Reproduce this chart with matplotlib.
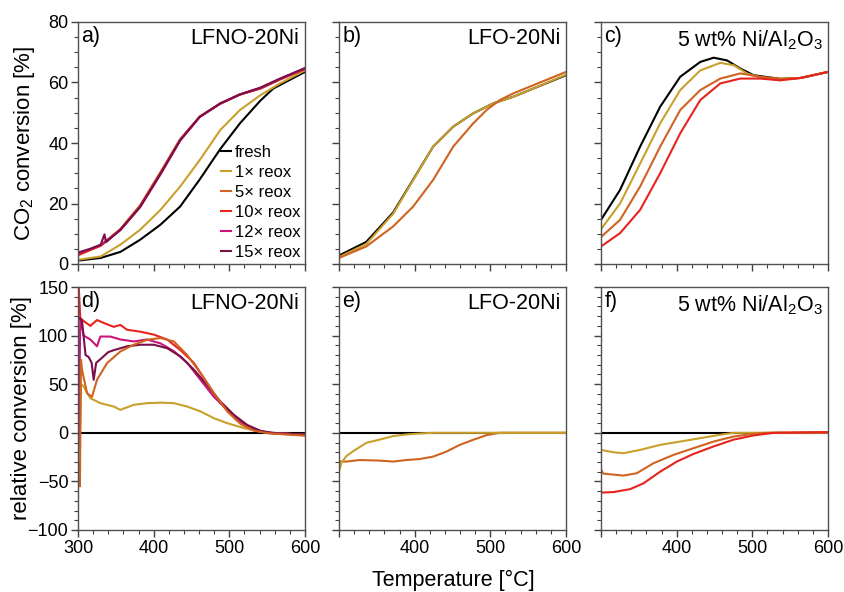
import matplotlib
matplotlib.use("Agg")
import matplotlib.pyplot as plt
from matplotlib.ticker import MultipleLocator

plt.rcParams["font.family"] = ["Liberation Sans", "DejaVu Sans"]
plt.rcParams["mathtext.default"] = "regular"

C_FRESH = "black"
C_1 = "#c9a02c"
C_5 = "#cf631f"
C_10 = "#e8231e"
C_12 = "#c8167a"
C_15 = "#7a1048"

# ---- a) LFNO-20Ni, CO2 conversion
a_fresh_T = [303, 316, 330, 356, 382, 409, 435, 461, 488, 514, 541, 558, 600]
a_fresh_C = [1.2, 1.6, 2.0, 4.0, 8.0, 13, 19, 28, 38, 46.5, 54, 58, 63.5]
a_r1_T = [303, 330, 356, 382, 409, 435, 461, 488, 514, 541, 567, 600]
a_r1_C = [1.5, 2.5, 6.4, 11.3, 17.9, 25.6, 34.4, 44.3, 50.9, 55.8, 59.7, 64]
a_r5_T = [300, 330, 356, 382, 409, 435, 461, 488, 514, 541, 567, 600]
a_r5_C = [2.8, 6.2, 11.6, 19.4, 30.4, 41.3, 48.8, 53, 56, 58, 61, 64.4]
a_r10_T = [300, 330, 356, 382, 409, 435, 461, 488, 514, 541, 567, 600]
a_r10_C = [3, 6, 11.3, 19, 30, 41, 48.7, 53, 56, 58, 61, 64.5]
a_r12_T = [300, 330, 356, 382, 409, 435, 461, 488, 514, 541, 567, 600]
a_r12_C = [3.5, 6.2, 11.2, 18.8, 29.6, 40.8, 48.6, 53, 56, 58.2, 61.2, 64.6]
a_r15_T = [300, 316, 330, 335, 337, 356, 382, 409, 435, 461, 488, 514, 541, 567, 600]
a_r15_C = [3.8, 5.0, 6.4, 9.8, 7.2, 11.3, 18.8, 29.8, 40.9, 48.7, 53.1, 56.1, 58.3, 61.3, 64.8]

# ---- b) LFO-20Ni, CO2 conversion
b_fresh_T = [300, 336, 371.5, 398, 424.4, 450.9, 477.4, 503.8, 530.3, 556.8, 600]
b_fresh_C = [2.8, 7.3, 17, 27.9, 38.8, 45.4, 49.8, 53.1, 55.3, 58, 62.4]
b_r1_T = [300, 336, 371.5, 398, 424.4, 450.9, 477.4, 503.8, 530.3, 556.8, 600]
b_r1_C = [2.3, 6.6, 16.6, 27.7, 38.8, 45.4, 49.8, 53.1, 55.3, 58, 62.6]
b_r5_T = [300, 336, 371.5, 398, 424.4, 450.9, 477.4, 495, 512.6, 530.3, 556.8, 600]
b_r5_C = [2.0, 5.8, 12.4, 19, 27.8, 38.8, 46.5, 50.9, 54.2, 56.4, 59.1, 63.5]

# ---- c) 5 wt% Ni/Al2O3, CO2 conversion
c_fresh_T = [300, 325.2, 351.7, 378.2, 404.7, 431.2, 448.9, 466.6, 484.2, 501.9, 537.2, 563.8, 600]
c_fresh_C = [14.6, 24.5, 38.8, 52, 61.9, 66.8, 68.2, 67.3, 64.6, 62.4, 61.2, 61.5, 63.5]
c_r1_T = [300, 325.2, 351.7, 378.2, 404.7, 431.2, 457.7, 475.4, 493, 510.7, 537.2, 563.8, 600]
c_r1_C = [11.5, 20, 33.2, 46.5, 57.5, 64, 66.5, 65.7, 63, 61.6, 61.2, 61.5, 63.5]
c_r5_T = [300, 325.2, 351.7, 378.2, 404.7, 431.2, 457.7, 484.2, 510.7, 537.2, 563.8, 600]
c_r5_C = [8.9, 14.6, 25.6, 38.8, 50.9, 57.5, 61.3, 63, 61.9, 61.2, 61.5, 63.5]
c_r10_T = [300, 325.2, 351.7, 378.2, 404.7, 431.2, 457.7, 484.2, 510.7, 537.2, 563.8, 600]
c_r10_C = [5.8, 10.2, 17.9, 30, 43.2, 54.2, 59.7, 61.3, 61.3, 60.7, 61.5, 63.5]

# ---- d) LFNO-20Ni, relative conversion
d_fresh_T = [305, 600]
d_fresh_R = [0, 0]
d_r1_T = [302, 304, 307.5, 316.3, 329.6, 347.2, 356, 373.7, 391.3, 409, 426.6, 444.3,
          461.9, 479.6, 497.2, 514.9, 532.5, 550.2, 600]
d_r1_R = [-20, 50, 47.6, 35.6, 30.5, 27, 23.6, 28.8, 30.5, 31, 30.5, 27,
          22, 15, 9.9, 5.8, 2.3, 0.3, -2]
d_r10_T = [301, 303, 307.5, 316.3, 325.1, 334, 347.2, 356, 364.9, 382.5, 400.2, 417.8,
           435.4, 453.1, 470.7, 488.4, 506, 523.7, 541.3, 559, 600]
d_r10_R = [150, 118, 115, 110, 116, 113, 109, 111, 106, 104, 101, 96,
           85, 72, 51, 30.5, 16.8, 6.4, 1.3, -1, -2]
d_r12_T = [301, 303, 307.5, 316.3, 325.1, 329.6, 342.8, 356, 373.7, 391.3, 409, 426.6,
           444.3, 461.9, 479.6, 497.2, 514.9, 532.5, 550.2, 600]
d_r12_R = [-10, 118, 100, 96, 89, 99, 99, 96, 94, 96, 92, 84,
           72, 54.5, 37, 23.6, 11.6, 3.7, 0.3, -2]
d_r15_T = [302, 305.3, 310, 314, 318, 320.7, 324, 330, 340, 347.2, 364.9, 382.5, 400.2,
           417.8, 435.4, 453.1, 470.7, 488.4, 506, 523.7, 541.3, 559, 600]
d_r15_R = [118, 115, 80, 78, 72, 54.5, 72, 76, 83, 85, 89, 90.6, 90.6,
           87, 78.6, 65, 49, 32, 18.5, 8, 2, -0.4, -2]
d_r5_T = [301, 302.5, 304, 305.3, 311.9, 318.5, 325.1, 338.4, 356, 373.7, 391.3, 409,
          426.6, 444.3, 461.9, 479.6, 497.2, 514.9, 532.5, 550.2, 600]
d_r5_R = [-30, -55, 75, 65, 40.8, 37, 54.5, 71.7, 83.7, 90.6, 95.7, 97.5,
          94, 80, 61.4, 40.8, 22, 9, 2.3, -0.4, -3]

# ---- e) LFO-20Ni, relative conversion
e_fresh_T = [300, 600]
e_fresh_R = [0, 0]
e_r1_T = [300, 303, 309.7, 318.5, 336.2, 353.8, 371.5, 389.1, 406.8, 424.4, 600]
e_r1_R = [-40, -31, -24, -19, -10.3, -7, -3.4, -1.7, -0.7, 0, 0]
e_r5_T = [300, 309.7, 327.4, 353.8, 371.5, 389.1, 406.8, 424.4, 442.1, 459.7, 477.4,
          495, 512.6, 600]
e_r5_R = [-29.6, -29.6, -28, -28.6, -29.6, -28, -27, -24.5, -19.3, -12.4, -7.2,
          -2.4, 0, 0]

# ---- f) 5 wt% Ni/Al2O3, relative conversion
f_fresh_T = [300, 600]
f_fresh_R = [0, 0]
f_r1_T = [300, 316.3, 329.6, 351.7, 378.2, 404.7, 431.2, 457.7, 475.4, 600]
f_r1_R = [-17.6, -20, -21, -17.6, -12.4, -9, -5.5, -2, 0, 0]
f_r5_T = [300, 303, 329.6, 347.3, 369.4, 395.9, 422.4, 448.9, 475.4, 501.9, 519.6, 600]
f_r5_R = [-37.5, -42, -44, -41.6, -31.3, -22.7, -15.8, -9, -3.8, -1, 0, 0.5]
f_r10_T = [300, 316.3, 338.4, 356.1, 378.2, 400.3, 422.4, 448.9, 475.4, 501.9, 528.4, 600]
f_r10_R = [-61.5, -61, -58, -52, -40, -29.6, -21.7, -14, -7, -2.7, 0, 0.7]

x_ticks = [300, 400, 500, 600]
legend_labels = ["fresh", "1× reox", "5× reox", "10× reox", "12× reox", "15× reox"]

fig = plt.figure(figsize=(8.45, 5.92), dpi=100)
lefts = [78 / 845, 339 / 845, 601 / 845]
w = 227 / 845
top_row = [fig.add_axes([l, 1 - 264 / 592, w, 242 / 592]) for l in lefts]
bot_row = [fig.add_axes([l, 1 - 530 / 592, w, 243 / 592]) for l in lefts]

lw = 1.5
ax = top_row[0]
ax.plot(a_fresh_T, a_fresh_C, color=C_FRESH, lw=lw, label=legend_labels[0])
ax.plot(a_r1_T, a_r1_C, color=C_1, lw=lw, label=legend_labels[1])
ax.plot(a_r5_T, a_r5_C, color=C_5, lw=lw, label=legend_labels[2])
ax.plot(a_r10_T, a_r10_C, color=C_10, lw=lw, label=legend_labels[3])
ax.plot(a_r12_T, a_r12_C, color=C_12, lw=lw, label=legend_labels[4])
ax.plot(a_r15_T, a_r15_C, color=C_15, lw=lw, label=legend_labels[5])
ax.legend(loc="lower right", frameon=False, fontsize=12, handlelength=0.6,
          handletextpad=0.25, labelspacing=0.3, borderaxespad=0.15, borderpad=0.1)

ax = top_row[1]
ax.plot(b_fresh_T, b_fresh_C, color=C_FRESH, lw=lw)
ax.plot(b_r1_T, b_r1_C, color=C_1, lw=lw)
ax.plot(b_r5_T, b_r5_C, color=C_5, lw=lw)

ax = top_row[2]
ax.plot(c_fresh_T, c_fresh_C, color=C_FRESH, lw=lw)
ax.plot(c_r1_T, c_r1_C, color=C_1, lw=lw)
ax.plot(c_r5_T, c_r5_C, color=C_5, lw=lw)
ax.plot(c_r10_T, c_r10_C, color=C_10, lw=lw)

ax = bot_row[0]
ax.plot(d_fresh_T, d_fresh_R, color=C_FRESH, lw=lw)
ax.plot(d_r1_T, d_r1_R, color=C_1, lw=lw)
ax.plot(d_r10_T, d_r10_R, color=C_10, lw=lw)
ax.plot(d_r12_T, d_r12_R, color=C_12, lw=lw)
ax.plot(d_r15_T, d_r15_R, color=C_15, lw=lw)
ax.plot(d_r5_T, d_r5_R, color=C_5, lw=lw)

ax = bot_row[1]
ax.plot(e_fresh_T, e_fresh_R, color=C_FRESH, lw=lw)
ax.plot(e_r5_T, e_r5_R, color=C_5, lw=lw)
ax.plot(e_r1_T, e_r1_R, color=C_1, lw=lw)

ax = bot_row[2]
ax.plot(f_fresh_T, f_fresh_R, color=C_FRESH, lw=lw)
ax.plot(f_r1_T, f_r1_R, color=C_1, lw=lw)
ax.plot(f_r5_T, f_r5_R, color=C_5, lw=lw)
ax.plot(f_r10_T, f_r10_R, color=C_10, lw=lw)

letters = ["a)", "b)", "c)", "d)", "e)", "f)"]
names = ["LFNO-20Ni", "LFO-20Ni", "5 wt% Ni/Al$_2$O$_3$"] * 2
for i, ax in enumerate(top_row + bot_row):
    ax.set_xlim(300, 600)
    ax.set_xticks(x_ticks)
    ax.xaxis.set_minor_locator(MultipleLocator(20))
    if i < 3:
        ax.set_ylim(0, 80)
        ax.yaxis.set_major_locator(MultipleLocator(20))
        ax.yaxis.set_minor_locator(MultipleLocator(5))
    else:
        ax.set_ylim(-100, 150)
        ax.yaxis.set_major_locator(MultipleLocator(50))
        ax.yaxis.set_minor_locator(MultipleLocator(10))
    ax.tick_params(which="both", direction="out", top=False, right=False,
                   labelsize=13, color="#404040", pad=2)
    ax.tick_params(which="major", length=5, width=1)
    ax.tick_params(which="minor", length=3, width=0.8)
    for s in ax.spines.values():
        s.set_color("#505050")
        s.set_linewidth(1)
    if i % 3 != 0:
        ax.tick_params(labelleft=False)
    if i < 3:
        ax.tick_params(labelbottom=False)
    elif i > 3:
        ax.set_xticklabels(["", "400", "500", "600"])
    ax.text(0.015, 0.985, letters[i], transform=ax.transAxes, ha="left", va="top", fontsize=15.5)
    ax.text(0.975, 0.975, names[i], transform=ax.transAxes, ha="right", va="top", fontsize=15.5)

fig.text(25 / 845, 1 - 143 / 592, "CO$_2$ conversion [%]", rotation=90,
         ha="center", va="center", fontsize=16)
fig.text(22 / 845, 1 - 408 / 592, "relative conversion [%]", rotation=90,
         ha="center", va="center", fontsize=16)
fig.text(453 / 845, 1 - 580 / 592, "Temperature [°C]", ha="center", va="center", fontsize=15.5)

fig.savefig("out.png", dpi=100)
